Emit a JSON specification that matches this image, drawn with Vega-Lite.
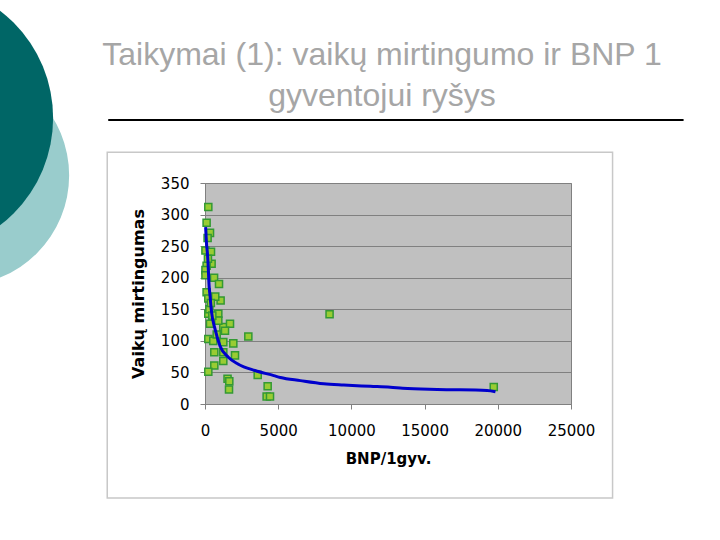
{
  "$schema": "https://vega.github.io/schema/vega-lite/v6.json",
  "width": 366,
  "height": 221,
  "autosize": {"type": "none"},
  "padding": {"left": 205, "top": 183, "right": 149, "bottom": 136},
  "background": "white",
  "title": {
    "text": ["Taikymai (1): vaikų mirtingumo ir BNP 1", "gyventojui ryšys"],
    "font": "Liberation Sans",
    "fontSize": 32,
    "fontWeight": "normal",
    "color": "#a6a6a6",
    "lineHeight": 41,
    "anchor": "middle",
    "frame": "group",
    "dx": -6,
    "offset": -130
  },
  "datasets": {
    "points": [
      {"bnp": 226, "mirt": 312}, {"bnp": 110, "mirt": 287}, {"bnp": 342, "mirt": 271},
      {"bnp": 178, "mirt": 263}, {"bnp": 30, "mirt": 243}, {"bnp": 410, "mirt": 241},
      {"bnp": 451, "mirt": 222}, {"bnp": 110, "mirt": 219}, {"bnp": 30, "mirt": 212},
      {"bnp": 30, "mirt": 204}, {"bnp": 620, "mirt": 200}, {"bnp": 957, "mirt": 190},
      {"bnp": 110, "mirt": 177}, {"bnp": 1066, "mirt": 164}, {"bnp": 226, "mirt": 167},
      {"bnp": 700, "mirt": 170}, {"bnp": 226, "mirt": 143}, {"bnp": 909, "mirt": 143},
      {"bnp": 342, "mirt": 127}, {"bnp": 1250, "mirt": 122}, {"bnp": 1708, "mirt": 127},
      {"bnp": 909, "mirt": 132}, {"bnp": 1367, "mirt": 116}, {"bnp": 2960, "mirt": 107},
      {"bnp": 226, "mirt": 103}, {"bnp": 567, "mirt": 100}, {"bnp": 1250, "mirt": 98},
      {"bnp": 1934, "mirt": 96}, {"bnp": 636, "mirt": 82}, {"bnp": 1250, "mirt": 82},
      {"bnp": 2050, "mirt": 77}, {"bnp": 1250, "mirt": 68}, {"bnp": 636, "mirt": 61},
      {"bnp": 226, "mirt": 51}, {"bnp": 3600, "mirt": 46}, {"bnp": 1540, "mirt": 40},
      {"bnp": 1660, "mirt": 36}, {"bnp": 1640, "mirt": 23}, {"bnp": 4280, "mirt": 28},
      {"bnp": 4210, "mirt": 12}, {"bnp": 4440, "mirt": 12}, {"bnp": 8509, "mirt": 142},
      {"bnp": 19724, "mirt": 27}, {"bnp": 300, "mirt": 150}, {"bnp": 400, "mirt": 160},
      {"bnp": 200, "mirt": 230}, {"bnp": 500, "mirt": 140}, {"bnp": 800, "mirt": 110}
    ],
    "fit": [
      {"bnp": 41, "mirt": 280}, {"bnp": 100, "mirt": 255}, {"bnp": 178, "mirt": 235},
      {"bnp": 294, "mirt": 183}, {"bnp": 342, "mirt": 172}, {"bnp": 451, "mirt": 145},
      {"bnp": 683, "mirt": 119}, {"bnp": 1025, "mirt": 92}, {"bnp": 1593, "mirt": 74},
      {"bnp": 2276, "mirt": 63}, {"bnp": 3417, "mirt": 53}, {"bnp": 4700, "mirt": 45},
      {"bnp": 5147, "mirt": 42}, {"bnp": 6514, "mirt": 37}, {"bnp": 8108, "mirt": 32},
      {"bnp": 9473, "mirt": 30}, {"bnp": 11298, "mirt": 28}, {"bnp": 12665, "mirt": 26.5},
      {"bnp": 13500, "mirt": 25}, {"bnp": 15857, "mirt": 23}, {"bnp": 19275, "mirt": 21.5},
      {"bnp": 19840, "mirt": 19.5}
    ]
  },
  "config": {
    "view": {"fill": "#c0c0c0", "stroke": "#808080", "strokeWidth": 1},
    "font": "DejaVu Sans",
    "axisX": {
      "tickCount": 20, "format": "d",
      "grid": false, "domainColor": "#808080", "tickColor": "#808080", "tickSize": 5,
      "labelFontSize": 15, "labelColor": "black", "labelPadding": 14, "labelFlush": false, "labelOverlap": false,
      "titleFontSize": 15, "titleFontWeight": "bold", "titleColor": "black", "titlePadding": 13
    },
    "axisY": {
      "tickCount": 20,
      "grid": true, "gridColor": "#808080", "gridOpacity": 1, "gridWidth": 1,
      "domainColor": "#808080", "tickColor": "#808080", "tickSize": 5,
      "labelFontSize": 15, "labelColor": "black", "labelPadding": 11, "labelOverlap": false, "labelFlush": false,
      "titleFontSize": 16, "titleFontWeight": "bold", "titleColor": "black", "titlePadding": 14
    }
  },
  "layer": [
    {
      "data": {"values": [{}]},
      "mark": {"type": "point", "shape": "circle", "filled": true, "color": "#99cccc", "opacity": 1, "size": 48400, "strokeWidth": 0},
      "encoding": {
        "x": {"datum": -16794, "type": "quantitative", "title": "BNP/1gyv.", "scale": {"domain": [0, 25000], "nice": false, "zero": false}, "axis": {"values": [0, 5000, 10000, 15000, 20000, 25000], "tickCount": 20, "format": "d"}},
        "y": {"datum": 362, "type": "quantitative", "title": "Vaikų mirtingumas", "scale": {"domain": [0, 350], "nice": false, "zero": false}, "axis": {"values": [0, 50, 100, 150, 200, 250, 300, 350], "tickCount": 20, "grid": true}}
      }
    },
    {
      "data": {"values": [{}]},
      "mark": {"type": "point", "shape": "circle", "filled": true, "color": "#006666", "opacity": 1, "size": 72900, "strokeWidth": 0},
      "encoding": {"x": {"datum": -19596, "type": "quantitative"}, "y": {"datum": 453, "type": "quantitative"}}
    },
    {
      "data": {"values": [{}]},
      "mark": {"type": "rule", "color": "black", "strokeWidth": 2},
      "encoding": {
        "x": {"datum": -6610, "type": "quantitative"},
        "x2": {"datum": 32690},
        "y": {"datum": 449.6, "type": "quantitative"}
      }
    },
    {
      "data": {"values": [{}]},
      "mark": {"type": "rect", "fill": null, "fillOpacity": 0, "stroke": "#c8c8c8", "strokeWidth": 1.5},
      "encoding": {
        "x": {"datum": -6678, "type": "quantitative"},
        "x2": {"datum": 27839},
        "y": {"datum": 398.8, "type": "quantitative"},
        "y2": {"datum": -148.7}
      }
    },
    {
      "data": {"name": "points"},
      "mark": {"type": "point", "shape": "square", "filled": true, "fill": "#99cc33", "stroke": "#339933", "strokeWidth": 1.5, "opacity": 1, "size": 50},
      "encoding": {
        "x": {"field": "bnp", "type": "quantitative", "title": "BNP/1gyv.", "axis": {"values": [0, 5000, 10000, 15000, 20000, 25000], "tickCount": 20, "format": "d"}},
        "y": {"field": "mirt", "type": "quantitative", "title": "Vaikų mirtingumas", "axis": {"values": [0, 50, 100, 150, 200, 250, 300, 350], "tickCount": 20, "grid": true}}
      }
    },
    {
      "data": {"name": "fit"},
      "mark": {"type": "line", "color": "#0000cc", "strokeWidth": 3, "interpolate": "monotone"},
      "encoding": {
        "x": {"field": "bnp", "type": "quantitative"},
        "y": {"field": "mirt", "type": "quantitative"}
      }
    }
  ]
}
